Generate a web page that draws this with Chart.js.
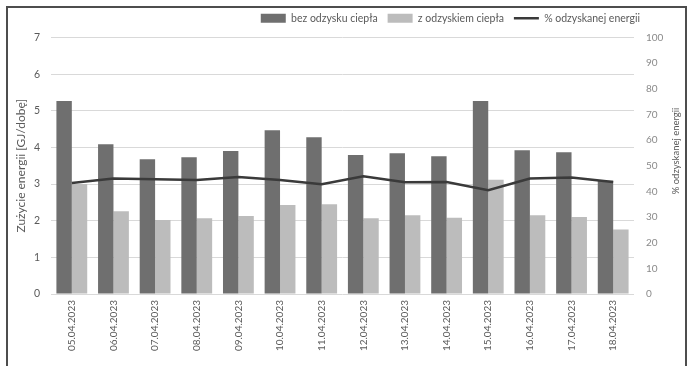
<!DOCTYPE html>
<html>
<head>
<meta charset="utf-8">
<script src="https://cdn.jsdelivr.net/npm/chart.js@4/dist/chart.umd.min.js"></script>
<style>
  html, body { margin: 0; padding: 0; background: #ffffff; }
  #wrap { position: relative; width: 691px; height: 366px; overflow: hidden; }
  #frame { position: absolute; left: 6px; top: 6px; width: 681px; height: 420px;
           border: 2px solid #4d4d4d; box-sizing: border-box; pointer-events: none; }
  canvas { position: absolute; left: 0; top: 0; }
</style>
</head>
<body>
<div id="wrap">
  <canvas id="c" width="691" height="366"></canvas>
  <div id="frame"></div>
</div>
<script>
// Daily energy use with and without heat recovery, plus share of recovered energy
const dates = ['05.04.2023', '06.04.2023', '07.04.2023', '08.04.2023', '09.04.2023',
               '10.04.2023', '11.04.2023', '12.04.2023', '13.04.2023', '14.04.2023',
               '15.04.2023', '16.04.2023', '17.04.2023', '18.04.2023'];
const bezOdzysku = [5.27, 4.09, 3.68, 3.73, 3.90, 4.47, 4.28, 3.79, 3.84, 3.76, 5.27, 3.92, 3.87, 3.09];
const zOdzyskiem = [3.00, 2.26, 2.02, 2.07, 2.13, 2.43, 2.45, 2.07, 2.15, 2.08, 3.12, 2.15, 2.10, 1.76];
const procentOdzysku = [43.3, 45.0, 44.7, 44.4, 45.6, 44.4, 42.8, 45.9, 43.6, 43.7, 40.5, 45.0, 45.4, 43.7];

const seriesNames = ['bez odzysku ciepła', 'z odzyskiem ciepła', '% odzyskanej energii'];
const leftTitle = 'Zużycie energii [GJ/dobę]';
const rightTitle = '% odzyskanej energii';

const FONT = 'Lato';
const TXT = '#5a5a5a';

// Right axis title, reading bottom-to-top like the left one
const rightTitlePlugin = {
  id: 'rightTitle',
  afterDraw(chart) {
    const ctx = chart.ctx;
    ctx.save();
    ctx.translate(chart.width - 15, 151);
    ctx.rotate(-Math.PI / 2);
    ctx.textAlign = 'center';
    ctx.textBaseline = 'middle';
    ctx.font = '9.5px ' + FONT;
    ctx.fillStyle = TXT;
    ctx.fillText(rightTitle, 0, 0);
    ctx.restore();
  }
};

// Keep the legend over the plot area, a little above its default row
const legendPlacement = {
  id: 'legendPlacement',
  afterLayout(chart) {
    const lg = chart.legend;
    if (lg) {
      lg.right = chart.chartArea.right + 16;
      lg.top -= 4;
      lg.bottom -= 4;
    }
  }
};

new Chart(document.getElementById('c'), {
  data: {
    labels: dates,
    datasets: [
      {
        type: 'bar',
        label: seriesNames[0],
        data: bezOdzysku,
        backgroundColor: '#6f6f6f',
        borderWidth: 0,
        pointStyle: 'rect',
        yAxisID: 'y',
        order: 1
      },
      {
        type: 'bar',
        label: seriesNames[1],
        data: zOdzyskiem,
        backgroundColor: '#bcbcbc',
        borderWidth: 0,
        pointStyle: 'rect',
        yAxisID: 'y',
        order: 2
      },
      {
        type: 'line',
        label: seriesNames[2],
        data: procentOdzysku,
        borderColor: '#3a3a3a',
        backgroundColor: '#3a3a3a',
        borderWidth: 2.5,
        pointRadius: 0,
        pointStyle: 'line',
        tension: 0,
        yAxisID: 'y1',
        order: 0
      }
    ]
  },
  options: {
    responsive: false,
    animation: false,
    devicePixelRatio: 1,
    datasets: {
      bar: { categoryPercentage: 0.74, barPercentage: 1.0 }
    },
    layout: { padding: { top: 7, left: 0, right: 0, bottom: 0 } },
    plugins: {
      tooltip: { enabled: false },
      legend: {
        position: 'top',
        align: 'end',
        labels: {
          usePointStyle: true,
          pointStyleWidth: 25,
          boxHeight: 9,
          padding: 10,
          color: TXT,
          font: { family: FONT, size: 10.5 },
          sort: (a, b) => a.datasetIndex - b.datasetIndex
        }
      }
    },
    scales: {
      x: {
        grid: { display: false, drawTicks: false },
        border: { display: false },
        ticks: {
          color: TXT,
          font: { family: FONT, size: 10 },
          minRotation: 90,
          maxRotation: 90,
          padding: 6,
          autoSkip: false
        },
        afterFit(scale) { scale.height = 72; }
      },
      y: {
        position: 'left',
        min: 0,
        max: 7,
        ticks: {
          stepSize: 1,
          color: TXT,
          font: { family: FONT, size: 10.5 },
          padding: 11
        },
        grid: { color: '#d9d9d9', lineWidth: 1, drawTicks: false },
        border: { display: false },
        title: {
          display: true,
          text: leftTitle,
          color: TXT,
          font: { family: FONT, size: 12 },
          padding: { top: 14, bottom: 0 }
        },
        afterFit(scale) { scale.width = 51; }
      },
      y1: {
        position: 'right',
        min: 0,
        max: 100,
        ticks: {
          stepSize: 10,
          color: '#8a8a8a',
          font: { family: FONT, size: 10 },
          padding: 12
        },
        grid: { drawOnChartArea: false, drawTicks: false },
        border: { display: false },
        afterFit(scale) { scale.width = 57; }
      }
    }
  },
  plugins: [rightTitlePlugin, legendPlacement]
});
</script>
</body>
</html>
